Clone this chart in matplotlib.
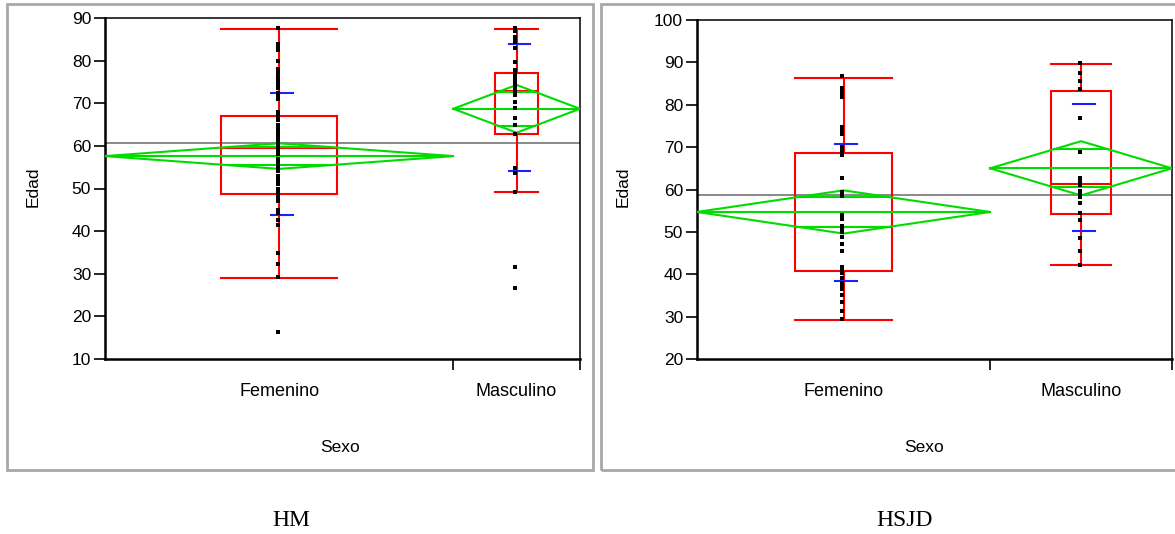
import numpy as np
import matplotlib.pyplot as plt
from matplotlib.patches import Rectangle

plt.rcParams['font.family'] = ['Liberation Sans', 'DejaVu Sans']

groups = ['Femenino', 'Masculino']

# --- HM ---
hm_fem_ages = [87.6, 84, 83.5, 83, 82.5, 80, 78, 77, 76.5, 76, 75, 74.3, 73.5, 72.5, 71.5, 71,
               68, 67, 66.5, 66, 65, 64.5, 64, 63, 62, 61.5, 61, 60, 59.5, 59, 58, 57, 56.5,
               56, 55, 54, 53, 52.5, 52, 51, 50, 49, 48, 47, 45, 44.3, 42.6, 41.4, 34.8,
               32.4, 29.3, 16.4]
hm_masc_ages = [87.7, 87, 85.6, 85, 84.4, 82.9, 79.7, 77.8, 77, 76.2, 75.5, 74.7, 74, 73.2,
                72.5, 72, 70.4, 68.8, 66.5, 64.9, 62.9, 54.8, 53.6, 49.2, 31.6, 26.7]
hm_means = [57.6, 68.7]
hm_ci_half = [3.0, 5.6]
hm_grand_mean = 60.7
hm_q1 = [48.8, 62.9]
hm_median = [59.6, 72.9]
hm_q3 = [67.0, 77.2]
hm_whisker_lo = [29.1, 49.2]
hm_whisker_hi = [87.4, 87.4]
hm_sd_lo = [43.8, 54.1]
hm_sd_hi = [72.3, 84.0]

# --- HSJD ---
hsjd_fem_ages = [86.8, 83.9, 83.2, 82.5, 81.8, 74.8, 74, 73.2, 70, 69, 68.1, 62.6, 59.4,
                 58.5, 53.9, 53, 51.5, 50.8, 50, 48.8, 47.2, 45.6, 41.7, 41, 40.3, 39, 38,
                 37.3, 36.6, 35, 33.4, 31.4, 29.5]
hsjd_masc_ages = [89.8, 87.5, 85.7, 83.6, 76.8, 68.8, 62.6, 61.8, 61.0, 59.7, 58.8, 58.3,
                  56.7, 54.5, 52.7, 48.6, 45.5, 42.3]
hsjd_means = [54.7, 65.0]
hsjd_ci_half = [5.1, 6.4]
hsjd_grand_mean = 58.7
hsjd_q1 = [40.7, 54.3]
hsjd_median = [51.1, 61.4]
hsjd_q3 = [68.5, 83.3]
hsjd_whisker_lo = [29.1, 42.1]
hsjd_whisker_hi = [86.4, 89.6]
hsjd_sd_lo = [38.5, 50.2]
hsjd_sd_hi = [70.7, 80.1]

RED = '#ff0000'
GREEN = '#00dc00'
BLUE = '#2020ff'
GRAY = '#808080'
SD_LEN = 0.046  # length of the std dev ticks, in axis units


def draw_panel(ax, widths, points, means, ci_half, grand_mean, q1, med, q3,
               wlo, whi, sdlo, sdhi, ylim, yticks):
    edges = np.concatenate([[0], np.cumsum(widths)])
    ax.axhline(grand_mean, color=GRAY, lw=1.3, zorder=1)
    for i in range(len(widths)):
        left, right = edges[i], edges[i + 1]
        w = right - left
        c = (left + right) / 2
        bw = w / 3

        # box and whiskers
        ax.add_patch(Rectangle((c - bw / 2, q1[i]), bw, q3[i] - q1[i], fill=False,
                               edgecolor=RED, lw=1.5, zorder=2))
        ax.plot([c - bw / 2, c + bw / 2], [med[i], med[i]], color=RED, lw=1.5, zorder=2)
        ax.plot([c, c], [wlo[i], q1[i]], color=RED, lw=1.5, zorder=2)
        ax.plot([c, c], [q3[i], whi[i]], color=RED, lw=1.5, zorder=2)
        ax.plot([c - bw / 2, c + bw / 2], [wlo[i], wlo[i]], color=RED, lw=1.5, zorder=2)
        ax.plot([c - bw / 2, c + bw / 2], [whi[i], whi[i]], color=RED, lw=1.5, zorder=2)

        # means diamond with overlap marks
        m, h = means[i], ci_half[i]
        ax.plot([left, c, right, c, left], [m, m + h, m, m - h, m], color=GREEN, lw=1.5, zorder=3)
        ax.plot([left, right], [m, m], color=GREEN, lw=1.5, zorder=3)
        half = (1 - 1 / np.sqrt(2)) * w / 2
        for yy in (m + h / np.sqrt(2), m - h / np.sqrt(2)):
            ax.plot([c - half, c + half], [yy, yy], color=GREEN, lw=1.5, zorder=3)

        # std dev marks
        sc = c + 0.006
        for yy in (sdlo[i], sdhi[i]):
            ax.plot([sc - SD_LEN / 2, sc + SD_LEN / 2], [yy, yy], color=BLUE, lw=1.5, zorder=4)

        # raw observations
        ax.plot(np.full(len(points[i]), c - 0.003), points[i], 's', color='black',
                ms=3.0, mew=0, zorder=5)

    ax.set_xlim(0, 1)
    ax.set_ylim(*ylim)
    ax.set_yticks(yticks)
    ax.set_xticks([edges[1], 1.0])
    ax.set_xticklabels([])
    ax.tick_params(axis='both', direction='out', length=8, width=1.2, labelsize=12.5,
                   colors='black')
    ax.tick_params(axis='y', pad=2)
    for side in ('left', 'bottom'):
        ax.spines[side].set_linewidth(1.8)
    for side in ('top', 'right'):
        ax.spines[side].set_linewidth(1.1)
    for i in range(len(widths)):
        ax.text((edges[i] + edges[i + 1]) / 2, -0.095, groups[i], transform=ax.transAxes,
                ha='center', va='center', fontsize=13)


fig = plt.figure(figsize=(11.75, 5.34), dpi=100)
W, H = 1175.0, 534.0

# gray frames around each report
fig.add_artist(Rectangle((7 / W, 1 - 470 / H), 586 / W, 466 / H, transform=fig.transFigure,
                         fill=False, edgecolor='#a8a8a8', lw=2))
fig.add_artist(Rectangle((601 / W, 1 - 470 / H), 600 / W, 466 / H, transform=fig.transFigure,
                         fill=False, edgecolor='#a8a8a8', lw=2))

ax1 = fig.add_axes([105 / W, 1 - 359 / H, 475 / W, 341 / H])
draw_panel(ax1, [0.733, 0.267], [hm_fem_ages, hm_masc_ages], hm_means, hm_ci_half,
           hm_grand_mean, hm_q1, hm_median, hm_q3, hm_whisker_lo, hm_whisker_hi,
           hm_sd_lo, hm_sd_hi, (10, 90), range(10, 91, 10))

ax2 = fig.add_axes([697 / W, 1 - 359 / H, 475 / W, 339 / H])
draw_panel(ax2, [0.617, 0.383], [hsjd_fem_ages, hsjd_masc_ages], hsjd_means, hsjd_ci_half,
           hsjd_grand_mean, hsjd_q1, hsjd_median, hsjd_q3, hsjd_whisker_lo, hsjd_whisker_hi,
           hsjd_sd_lo, hsjd_sd_hi, (20, 100), range(20, 101, 10))

# axis titles
fig.text(33 / W, 1 - 187 / H, 'Edad', rotation=90, ha='center', va='center', fontsize=12.5)
fig.text(623 / W, 1 - 187 / H, 'Edad', rotation=90, ha='center', va='center', fontsize=12.5)
fig.text(340 / W, 1 - 447 / H, 'Sexo', ha='center', va='center', fontsize=12.5)
fig.text(924 / W, 1 - 447 / H, 'Sexo', ha='center', va='center', fontsize=12.5)

# hospital captions
fig.text(291 / W, 1 - 520 / H, 'HM', ha='center', va='center', fontsize=17,
         family=['Liberation Serif', 'DejaVu Serif'])
fig.text(905 / W, 1 - 520 / H, 'HSJD', ha='center', va='center', fontsize=17,
         family=['Liberation Serif', 'DejaVu Serif'])

fig.savefig('out.png', dpi=100)
